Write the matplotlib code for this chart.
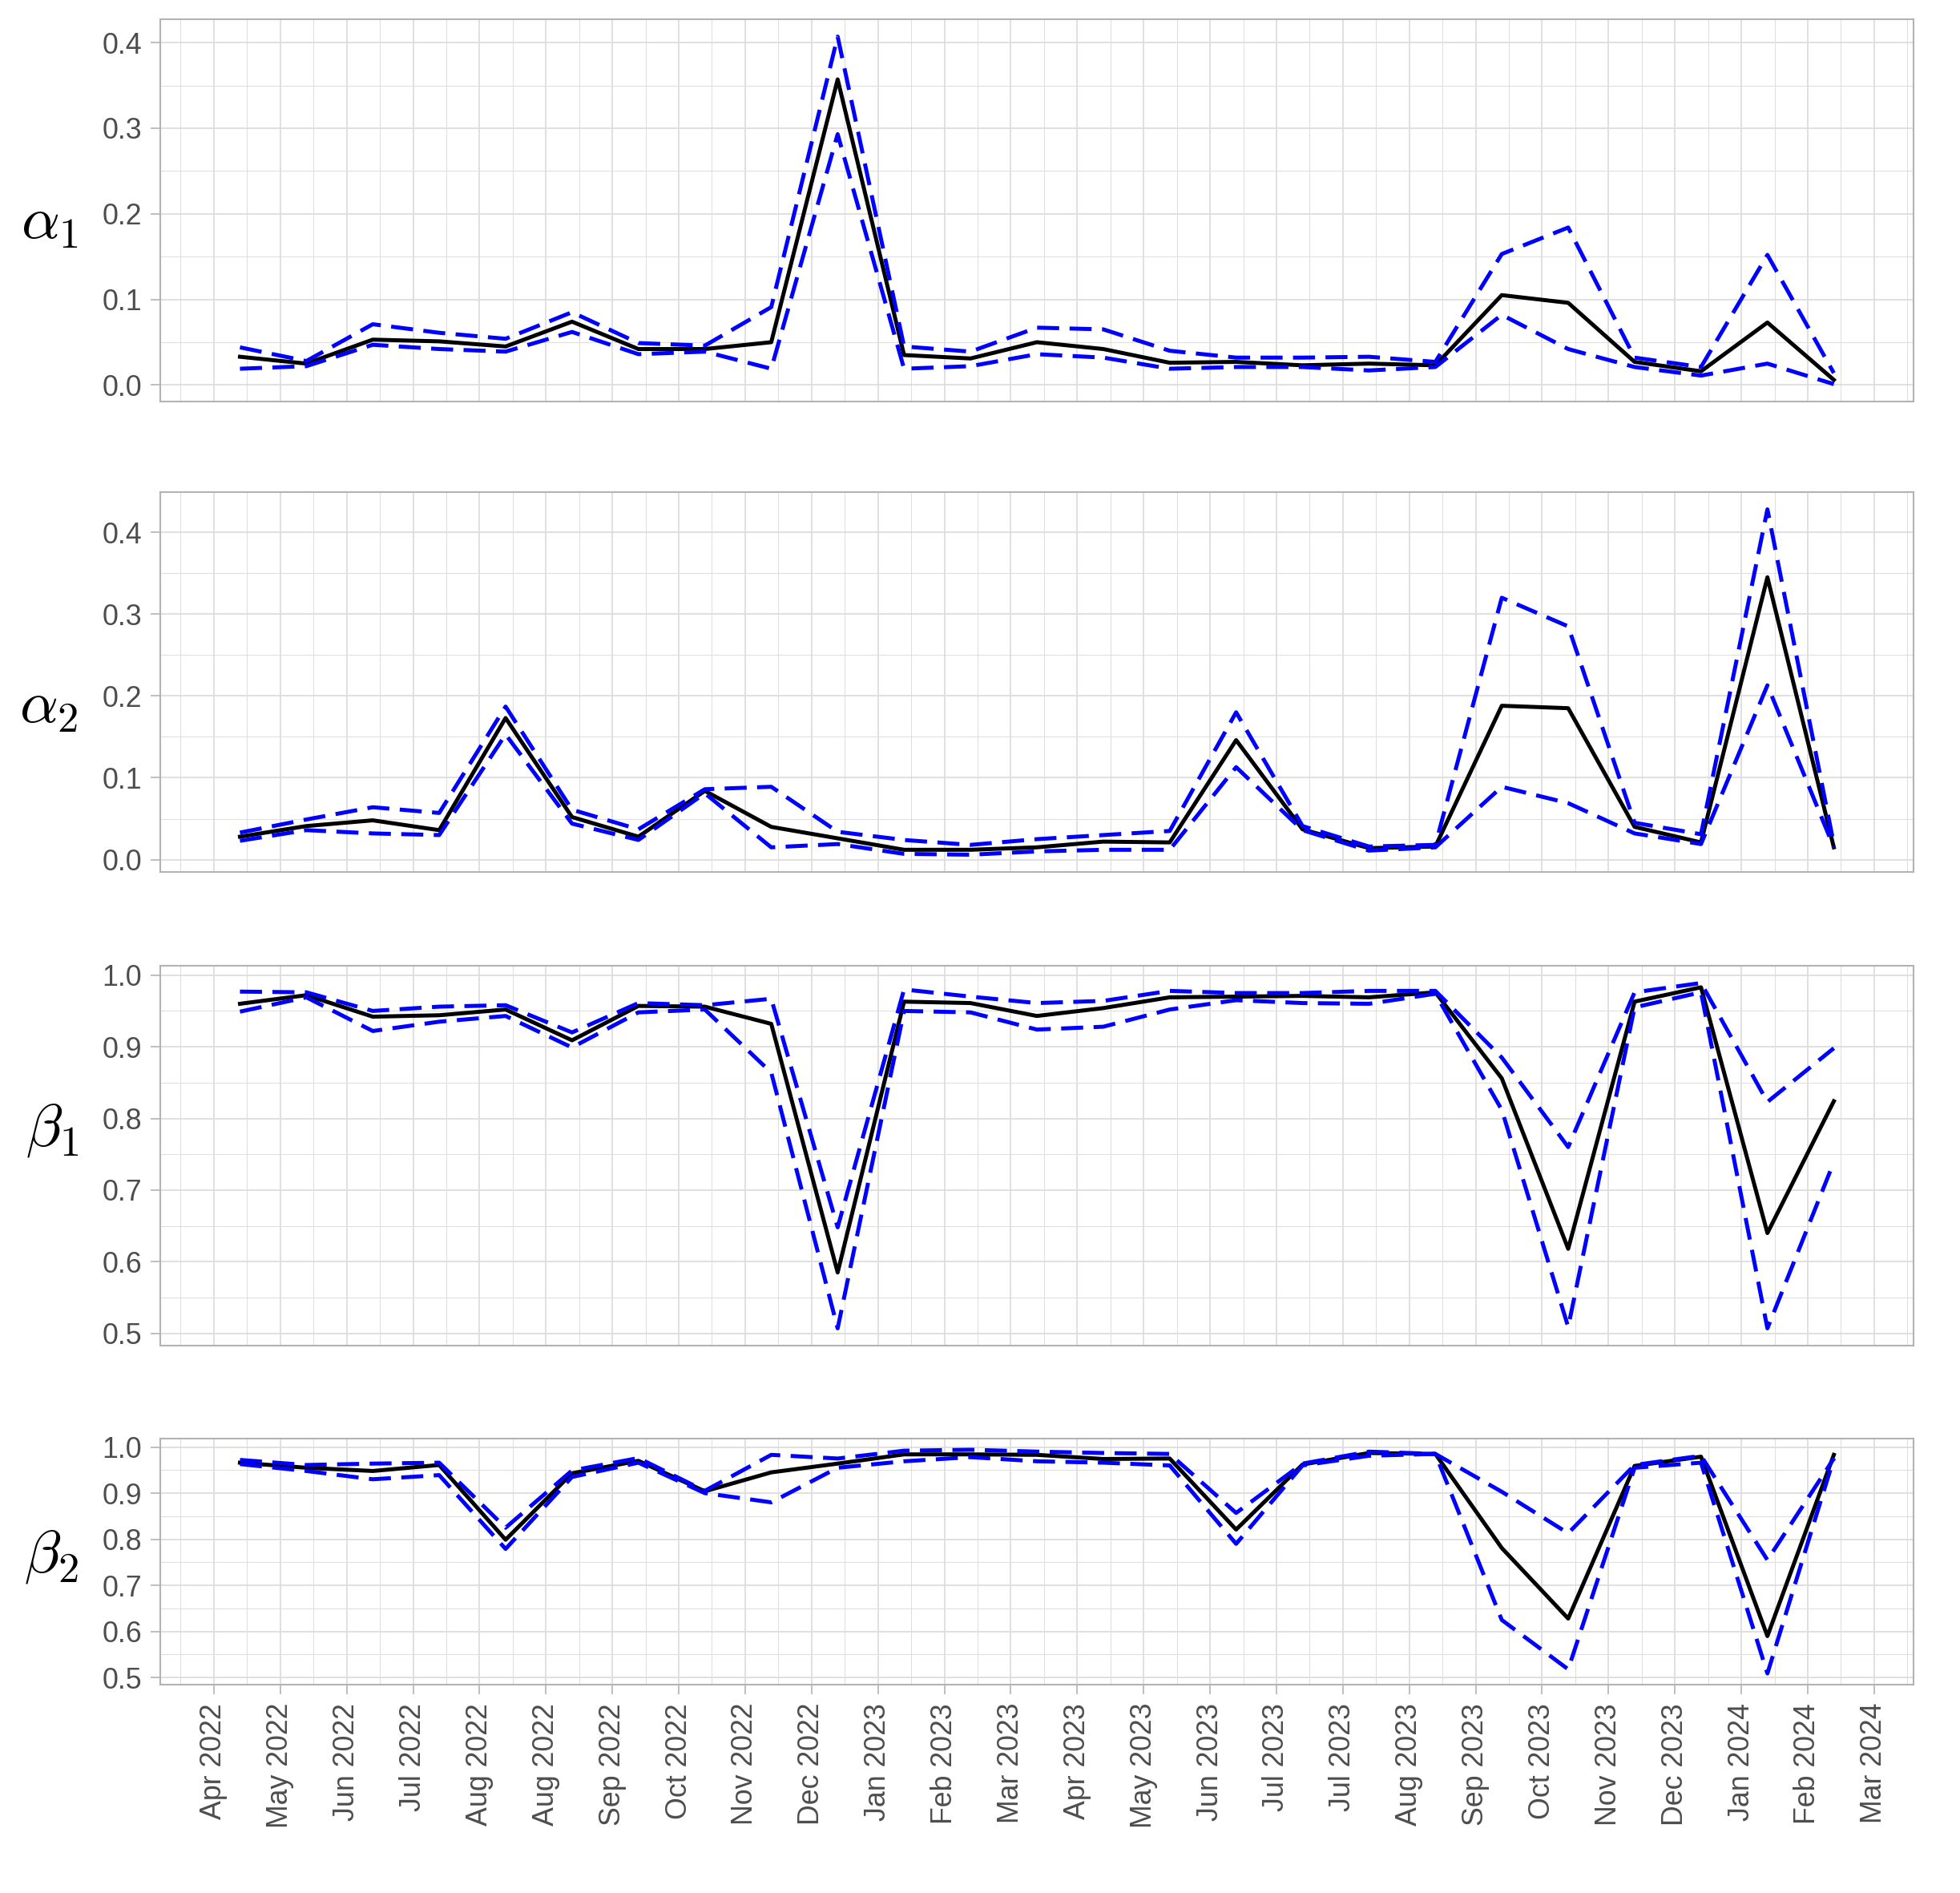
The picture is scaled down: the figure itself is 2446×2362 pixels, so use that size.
import matplotlib
matplotlib.use('Agg')
import matplotlib.pyplot as plt
import matplotlib.dates as mdates
import numpy as np
import pandas as pd

plt.rcParams['font.family'] = ['Liberation Sans', 'DejaVu Sans']
plt.rcParams['mathtext.fontset'] = 'cm'

# estimation dates (every 4 weeks)
dates = pd.date_range('2022-04-22', periods=25, freq='28D')

# alpha_1 : estimate, lower and upper band
a1_est = [0.033, 0.025, 0.053, 0.051, 0.045, 0.074, 0.042, 0.042, 0.050, 0.357, 0.035, 0.031, 0.050,
          0.042, 0.026, 0.027, 0.023, 0.025, 0.023, 0.105, 0.096, 0.027, 0.016, 0.073, 0.006]
a1_lo = [0.019, 0.022, 0.047, 0.042, 0.039, 0.062, 0.036, 0.039, 0.019, 0.293, 0.019, 0.022, 0.036,
         0.032, 0.019, 0.021, 0.021, 0.017, 0.021, 0.082, 0.042, 0.021, 0.011, 0.025, 0.001]
a1_hi = [0.044, 0.028, 0.071, 0.061, 0.054, 0.085, 0.049, 0.046, 0.091, 0.407, 0.045, 0.039, 0.067,
         0.065, 0.040, 0.032, 0.032, 0.033, 0.027, 0.153, 0.184, 0.032, 0.021, 0.152, 0.014]

# alpha_2
a2_est = [0.028, 0.041, 0.048, 0.036, 0.173, 0.052, 0.028, 0.084, 0.040, 0.026, 0.012, 0.012, 0.015,
          0.022, 0.021, 0.146, 0.037, 0.014, 0.016, 0.188, 0.185, 0.040, 0.021, 0.345, 0.015]
a2_lo = [0.023, 0.036, 0.032, 0.030, 0.153, 0.044, 0.024, 0.081, 0.015, 0.019, 0.007, 0.006, 0.010,
         0.012, 0.012, 0.113, 0.036, 0.011, 0.015, 0.089, 0.069, 0.032, 0.019, 0.213, 0.015]
a2_hi = [0.033, 0.049, 0.064, 0.057, 0.187, 0.061, 0.037, 0.086, 0.089, 0.034, 0.024, 0.018, 0.025,
         0.030, 0.035, 0.180, 0.041, 0.016, 0.018, 0.320, 0.285, 0.045, 0.031, 0.428, 0.019]

# beta_1
b1_est = [0.960, 0.972, 0.942, 0.944, 0.952, 0.909, 0.957, 0.956, 0.932, 0.585, 0.963, 0.961, 0.943,
          0.954, 0.969, 0.970, 0.971, 0.969, 0.976, 0.856, 0.618, 0.963, 0.983, 0.640, 0.824]
b1_lo = [0.949, 0.969, 0.922, 0.935, 0.943, 0.899, 0.948, 0.952, 0.864, 0.507, 0.950, 0.948, 0.924,
         0.928, 0.952, 0.965, 0.961, 0.960, 0.974, 0.812, 0.509, 0.955, 0.976, 0.507, 0.739]
b1_hi = [0.977, 0.976, 0.950, 0.956, 0.958, 0.920, 0.961, 0.958, 0.967, 0.648, 0.980, 0.970, 0.961,
         0.964, 0.978, 0.975, 0.975, 0.978, 0.978, 0.885, 0.760, 0.976, 0.989, 0.823, 0.898]

# beta_2
b2_est = [0.966, 0.955, 0.948, 0.961, 0.799, 0.943, 0.970, 0.904, 0.945, 0.964, 0.984, 0.984, 0.983,
          0.974, 0.975, 0.821, 0.962, 0.987, 0.985, 0.781, 0.628, 0.959, 0.979, 0.590, 0.983]
b2_lo = [0.963, 0.948, 0.930, 0.939, 0.779, 0.935, 0.966, 0.900, 0.880, 0.955, 0.969, 0.978, 0.969,
         0.966, 0.960, 0.790, 0.960, 0.981, 0.985, 0.625, 0.518, 0.955, 0.966, 0.509, 0.975]
b2_hi = [0.972, 0.961, 0.964, 0.966, 0.825, 0.949, 0.976, 0.905, 0.983, 0.975, 0.992, 0.994, 0.990,
         0.987, 0.985, 0.857, 0.964, 0.990, 0.985, 0.903, 0.813, 0.961, 0.981, 0.755, 0.975]

labels = [r'$\alpha_1$', r'$\alpha_2$', r'$\beta_1$', r'$\beta_2$']
series = [(a1_est, a1_lo, a1_hi), (a2_est, a2_lo, a2_hi),
          (b1_est, b1_lo, b1_hi), (b2_est, b2_lo, b2_hi)]
yticks = [np.arange(0, 0.41, 0.1), np.arange(0, 0.41, 0.1),
          np.arange(0.5, 1.01, 0.1), np.arange(0.5, 1.01, 0.1)]

# x breaks every 4 weeks, minor halfway
xbreaks = pd.date_range('2022-04-11', periods=26, freq='28D')
xminor = list(xbreaks - pd.Timedelta(days=14)) + [xbreaks[-1] + pd.Timedelta(days=14)]

W, H = 2446, 2362
# panel pixel boxes (top, bottom)
rows = [(24, 501), (614, 1088), (1205, 1679), (1795, 2102)]
lab_y = [278, 882, 1410, 1943]
left, right = 200, 2388

grey30 = '#4D4D4D'
grey70 = '#B3B3B3'
grey87 = '#DEDEDE'

fig = plt.figure(figsize=(W / 300, H / 300), dpi=300)

xnum = mdates.date2num(dates)
span = xnum[-1] - xnum[0]

for i in range(4):
    top, bot = rows[i]
    ax = fig.add_axes([left / W, 1 - bot / H, (right - left) / W, (bot - top) / H])
    est, lo, hi = series[i]
    ax.plot(dates, est, color='black', lw=1.2)
    ax.plot(dates, lo, color='blue', lw=1.2, ls=(0, (5.5, 2.6)))
    ax.plot(dates, hi, color='blue', lw=1.2, ls=(0, (5.5, 2.6)))

    ymin = min(lo + hi + est)
    ymax = max(lo + hi + est)
    yr = ymax - ymin

    ax.set_xticks(mdates.date2num(xbreaks))
    ax.set_xticks(mdates.date2num(xminor), minor=True)
    ax.set_yticks(yticks[i])
    ax.set_yticks(yticks[i][:-1] + 0.05, minor=True)
    ax.set_yticklabels(['%.1f' % v for v in yticks[i]])
    ax.set_xlim(xnum[0] - 0.05 * span, xnum[-1] + 0.05 * span)
    ax.set_ylim(ymin - 0.05 * yr, ymax + 0.05 * yr)

    ax.grid(which='major', color=grey87, lw=0.45)
    ax.grid(which='minor', color=grey87, lw=0.25)
    ax.set_axisbelow(True)
    for s in ax.spines.values():
        s.set_color(grey70)
        s.set_linewidth(0.5)

    ax.tick_params(axis='y', which='major', length=2.9, width=0.4, color=grey70,
                   pad=2.6, labelsize=8.6, labelcolor=grey30)
    ax.tick_params(axis='y', which='minor', length=0)
    if i < 3:
        ax.tick_params(axis='x', which='both', length=0, labelbottom=False)
    else:
        ax.set_xticklabels([d.strftime('%b %Y') for d in xbreaks])
        ax.tick_params(axis='x', which='major', length=2.9, width=0.4, color=grey70,
                       pad=2.6, labelsize=8.6, labelcolor=grey30, labelrotation=90)
        ax.tick_params(axis='x', which='minor', length=0)

    fig.text(98 / W, 1 - lab_y[i] / H, labels[i], ha='right', va='center', fontsize=18)

fig.savefig('out.png', dpi=300, facecolor='white')
